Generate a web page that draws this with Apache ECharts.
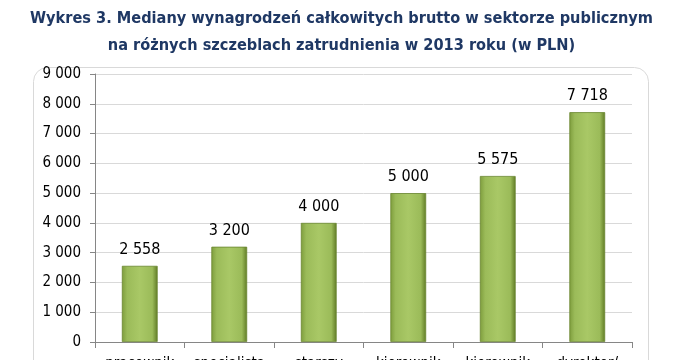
<!DOCTYPE html>
<html><head><meta charset="utf-8">
<script src="https://cdn.jsdelivr.net/npm/echarts@6/dist/echarts.min.js"></script>
<style>html,body{margin:0;padding:0;background:#fff}#c{width:683px;height:360px}</style>
</head><body><div id="c"></div>
<script>
const titleLines = ['Wykres 3. Mediany wynagrodzeń całkowitych brutto w sektorze publicznym', 'na różnych szczeblach zatrudnienia w 2013 roku (w PLN)'];
const categories = ['pracownik\nszeregowy', 'specjalista', 'starszy\nspecjalista', 'kierownik\nniższego szczebla', 'kierownik\nwyższego szczebla', 'dyrektor/\nprezes'];
const values = [2558, 3200, 4000, 5000, 5575, 7718];
const yMin = 0, yMax = 9000, yStep = 1000;

const fmt = v => String(v).replace(/\B(?=(\d{3})+(?!\d))/g, ' ');
const FONT = '"DejaVu Sans Condensed", "Liberation Sans", sans-serif';
const chart = echarts.init(document.getElementById('c'));
chart.setOption({
  animation: false,
  title: {
    text: titleLines.join('\n'), left: 'center', top: 0,
    textStyle: {color: '#1F3864', fontSize: 16.2, fontWeight: 'bold', fontFamily: FONT, lineHeight: 27}
  },
  graphic: [{type: 'rect', shape: {x: 33.5, y: 67.5, width: 615, height: 330, r: 14}, style: {fill: 'none', stroke: '#d9d9d9', lineWidth: 1}, z: -1}],
  grid: {left: 95, right: 51, top: 74, bottom: 18, containLabel: false, outerBoundsMode: 'none'},
  xAxis: {
    type: 'category', data: categories,
    axisLine: {lineStyle: {color: '#868686'}},
    axisTick: {show: true, length: 6, lineStyle: {color: '#868686'}},
    axisLabel: {color: '#000', fontSize: 15, fontFamily: FONT, margin: 12, interval: 0, lineHeight: 20, verticalAlign: 'top'}
  },
  yAxis: {
    type: 'value', min: yMin, max: yMax, interval: yStep,
    axisLine: {show: true, lineStyle: {color: '#868686'}},
    axisTick: {show: true, length: 5, lineStyle: {color: '#868686'}},
    splitLine: {lineStyle: {color: '#d9d9d9'}},
    axisLabel: {color: '#000', fontSize: 15, fontFamily: FONT, margin: 14, formatter: fmt}
  },
  series: [{
    type: 'bar', data: values, barWidth: '40%',
    itemStyle: {
      color: new echarts.graphic.LinearGradient(0, 0, 1, 0, [
        {offset: 0, color: '#7d9c3c'}, {offset: 0.15, color: '#9bbb59'},
        {offset: 0.5, color: '#a9c866'}, {offset: 0.85, color: '#9bbb59'}, {offset: 1, color: '#5f7a25'}
      ]),
      borderColor: '#6a8630', borderWidth: 0.8
    },
    label: {show: true, position: 'top', distance: 8, color: '#000', fontSize: 16, fontFamily: FONT, formatter: p => fmt(p.value)}
  }]
});
</script></body></html>
